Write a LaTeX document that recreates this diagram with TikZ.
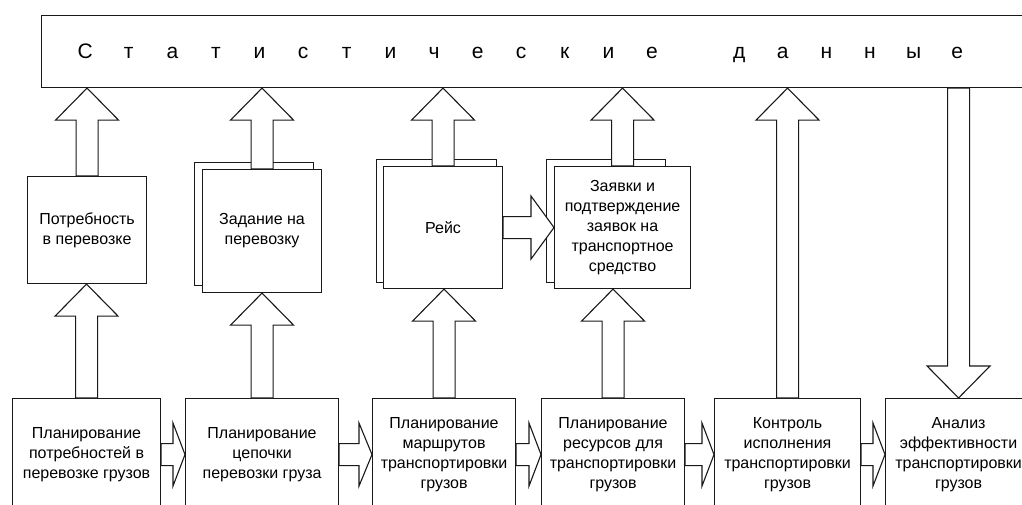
\documentclass[tikz,border=0pt]{standalone}
\usepackage{fontspec}
\setmainfont{Liberation Sans}
\usetikzlibrary{calc}
\newcommand\ls[1]{\makebox[43.6pt]{#1}}
\tikzset{
  box/.style={draw=black!90, line width=1.1pt, fill=white, anchor=north west, inner sep=0pt,
    align=center, font=\fontsize{16}{20}\selectfont},
  blk/.style={draw=black!90, line width=1.1pt, fill=white, line join=miter},
}
% vertical block arrow: #1 x reference, #2 start, #3 tip, #4 signed head length
\newcommand\blkV[4]{%
  \draw[blk] let \p0=(#1), \p1=(#2), \p2=(#3) in
    ({\x0-11pt},{\y1}) -- ({\x0-11pt},{\y2-(#4)}) -- ({\x0-31.5pt},{\y2-(#4)}) -- (\x0,\y2)
    -- ({\x0+31.5pt},{\y2-(#4)}) -- ({\x0+11pt},{\y2-(#4)}) -- ({\x0+11pt},{\y1}) -- cycle;}
% horizontal block arrow: #1 from, #2 to, #3 head length
\newcommand\blkH[3]{%
  \draw[blk] let \p1=(#1.east), \p2=(#2.west) in
    (\x1,{\y1+11pt}) -- ({\x2-#3},{\y1+11pt}) -- ({\x2-#3},{\y1+31.5pt}) -- (\x2,\y1)
    -- ({\x2-#3},{\y1-31.5pt}) -- ({\x2-#3},{\y1-11pt}) -- (\x1,{\y1-11pt}) -- cycle;}
\begin{document}
\begin{tikzpicture}[x=1pt, y=-1pt]
\useasboundingbox (0,0) rectangle (1022,505);
\clip (0,0) rectangle (1022,505);
\fill[white] (0,0) rectangle (1022,505);

% top box
\node[box, minimum width=1000pt, minimum height=72pt] (top) at (41,15) {};
\node[anchor=base west, inner sep=0pt, font=\fontsize{21}{25}\selectfont] (title) at (63.2,59)
  {\ls{С}\ls{т}\ls{а}\ls{т}\ls{и}\ls{с}\ls{т}\ls{и}\ls{ч}\ls{е}\ls{с}\ls{к}\ls{и}\ls{е}\ls{ }\ls{д}\ls{а}\ls{н}\ls{н}\ls{ы}\ls{е}};

% middle documents (back sheets)
\node[box, minimum width=119pt, minimum height=123pt] (m2s) at (194,162) {};
\node[box, minimum width=120pt, minimum height=123pt] (m3s) at (376,159) {};
\node[box, minimum width=119pt, minimum height=123pt] (m4s) at (546,159) {};

% middle boxes
\node[box, minimum width=119pt, minimum height=107pt] (m1) at (27,176) {Потребность\\в перевозке};
\node[box, minimum width=119pt, minimum height=123pt] (m2) at (202,169) {Задание на\\перевозку};
\node[box, minimum width=119pt, minimum height=122pt] (m3) at (383,166) {Рейс};
\node[box, minimum width=136pt, minimum height=122pt] (m4) at (554,166) {Заявки и\\подтверждение\\заявок на\\транспортное\\средство};

% bottom boxes
\node[box, minimum width=148pt, minimum height=112pt] (b1) at (12,398) {Планирование\\потребностей в\\перевозке грузов};
\node[box, minimum width=153pt, minimum height=112pt] (b2) at (185,398) {Планирование\\цепочки\\перевозки груза};
\node[box, minimum width=143pt, minimum height=112pt] (b3) at (372,398) {Планирование\\маршрутов\\транспортировки\\грузов};
\node[box, minimum width=143pt, minimum height=112pt] (b4) at (541,398) {Планирование\\ресурсов для\\транспортировки\\грузов};
\node[box, minimum width=146pt, minimum height=112pt] (b5) at (714,398) {Контроль\\исполнения\\транспортировки\\грузов};
\node[box, minimum width=146pt, minimum height=112pt] (b6) at (885,398) {Анализ\\эффективности\\транспортировки\\грузов};

% arrows: middle -> top
\blkV{m1}{m1.north}{m1.north |- top.south}{32pt}
\blkV{m2}{m2.north}{m2.north |- top.south}{32pt}
\blkV{m3}{m3.north}{m3.north |- top.south}{32pt}
\blkV{m4}{m4.north}{m4.north |- top.south}{32pt}
% bottom -> top / top -> bottom
\blkV{b5}{b5.north}{b5.north |- top.south}{32pt}
\blkV{b6}{b6.north |- top.south}{b6.north}{-32pt}
% bottom -> middle
\blkV{b1}{b1.north}{b1.north |- m1.south}{32pt}
\blkV{b2}{b2.north}{b2.north |- m2.south}{32pt}
\blkV{b3}{b3.north}{b3.north |- m3.south}{32pt}
\blkV{b4}{b4.north}{b4.north |- m4.south}{32pt}
% horizontal
\blkH{m3}{m4}{23pt}
\blkH{b1}{b2}{12pt}
\blkH{b2}{b3}{13pt}
\blkH{b3}{b4}{12pt}
\blkH{b4}{b5}{12pt}
\blkH{b5}{b6}{12pt}
\end{tikzpicture}
\end{document}
